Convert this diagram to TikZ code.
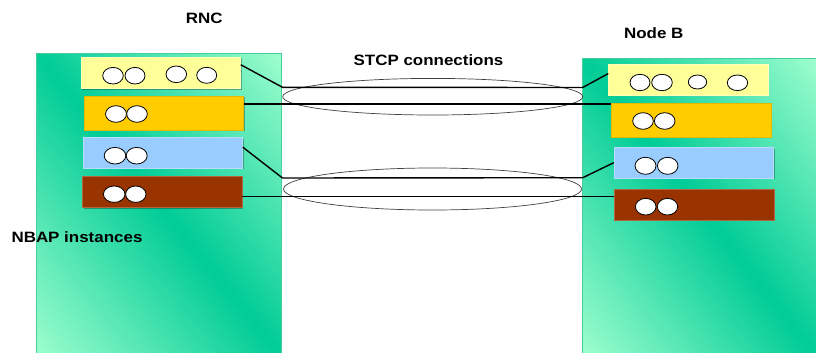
\documentclass[tikz,border=0pt]{standalone}
\usepackage{fontspec}
\newfontfamily\lblfont{Liberation Sans Bold}[FakeStretch=1.13]
\usetikzlibrary{shapes.geometric,shadows}
\definecolor{mintlight}{RGB}{158,254,206}
\definecolor{mintdark}{RGB}{0,204,150}
\definecolor{panelline}{RGB}{70,205,155}
\definecolor{boxyellow}{RGB}{255,255,153}
\definecolor{boxorange}{RGB}{255,204,0}
\definecolor{boxblue}{RGB}{153,204,255}
\definecolor{boxbrown}{RGB}{153,51,0}
\newcommand\mygradpanel[4]{% x0 y0 w h (top-left corner, y downwards)
  \begin{scope}
    \clip (#1,#2) rectangle ({#1+#3},{#2+#4});
    \fill[mintdark] (#1,#2) rectangle ({#1+#3},{#2+#4});
    \foreach \i in {0,...,39}{%
      \pgfmathsetmacro\sa{\i/40-0.003}%
      \pgfmathsetmacro\sb{(\i+1)/40+0.003}%
      \pgfmathsetmacro\pct{100*(\i+0.5)/40}%
      \fill[mintlight!\pct!mintdark]
        ({#1+#3*(\sa-1)},{#2-#4}) -- ({#1+#3*(\sa+2)},{#2+2*#4}) --
        ({#1+#3*(\sb+2)},{#2+2*#4}) -- ({#1+#3*(\sb-1)},{#2-#4}) -- cycle;
      \fill[mintlight!\pct!mintdark]
        ({#1+#3*(-\sa-1)},{#2-#4}) -- ({#1+#3*(-\sa+2)},{#2+2*#4}) --
        ({#1+#3*(-\sb+2)},{#2+2*#4}) -- ({#1+#3*(-\sb-1)},{#2-#4}) -- cycle;
    }
  \end{scope}}
\begin{document}
\begin{tikzpicture}[x=1pt,y=-1pt,
  panel/.style={draw=panelline,line width=0.8pt,inner sep=0pt},
  inst/.style={inner sep=0pt,minimum width=159.5pt,
    drop shadow={shadow xshift=1.3pt,shadow yshift=-1.3pt,fill=black,opacity=0.3}},
  bub/.style={draw=black,fill=white,line width=0.8pt},
  conn/.style={draw=black,line width=1.4pt},
  stcp/.style={ellipse,draw=black!75,line width=0.7pt,inner sep=0pt},
  lbl/.style={inner sep=0pt,font=\lblfont\fontsize{15}{18}\selectfont}
]
\useasboundingbox (0,0) rectangle (816,353);

% panels
\mygradpanel{36.7}{53.3}{245}{303}
\mygradpanel{582.7}{58.3}{234}{298}
\node[panel,minimum width=245pt,minimum height=303pt] (rncp) at (159.2,204.8) {};
\node[panel,minimum width=237pt,minimum height=298pt] (nbp) at (701.2,207.3) {};

% STCP association ellipses
\node[stcp,minimum width=300pt,minimum height=36.6pt] (e1) at (432.7,96.7) {};
\node[stcp,minimum width=298pt,minimum height=42pt] (e2) at (432.5,189) {};

% instance boxes, RNC side
\node[inst,fill=boxyellow,draw=boxyellow!70!white,minimum height=31.5pt] (ly) at (160.8,72.7) {};
\node[inst,fill=boxorange,draw=boxorange!90!black,minimum height=34pt] (lo) at (163.7,113) {};
\node[inst,fill=boxblue,draw=boxblue!70!white,minimum height=30.7pt] (lb) at (162.8,152.7) {};
\node[inst,fill=boxbrown,draw=boxbrown!75!white,minimum height=31.3pt] (lr) at (162.2,191.7) {};
% instance boxes, Node B side
\node[inst,fill=boxyellow,draw=boxyellow!70!white,minimum height=31pt] (ry) at (688.3,79.5) {};
\node[inst,fill=boxorange,draw=boxorange!90!black,minimum height=34pt] (ro) at (691.2,119.7) {};
\node[inst,fill=boxblue,draw=boxblue!70!white,minimum height=30.7pt] (rb) at (693.7,162.7) {};
\node[inst,fill=boxbrown,draw=boxbrown!75!white,minimum height=31pt] (rr) at (694.2,204.5) {};

% bend points at the panel edges
\coordinate (k1) at (282.5,87.3);
\coordinate (k2) at (582.7,87.5);
\coordinate (k3) at (282.5,178);
\coordinate (k4) at (582.7,177.7);

% connections
\draw[conn] ([yshift=-8pt]ly.north east) -- (k1) -- (k2) -- ([yshift=6pt]ry.west);
\draw[conn] ([yshift=-8pt]lo.north east) coordinate (o2) -- (o2 -| ro.west);
\draw[conn] ([yshift=-10pt]lb.north east) -- (k3) -- (k4) -- (rb.west);
\draw[conn] ([yshift=-5pt]lr.east) coordinate (o4) -- (o4 -| rr.west);

% bubbles
\foreach \cx/\cy/\rx/\ry in {113/75.7/10.3/8.3, 135/75.7/10/8.3, 176.3/74.3/10.3/8.3, 206.7/75.3/10/8,
  116/114/10.5/8.3, 137/114/10.3/8.3,
  115/155.7/10.8/8.3, 136.7/155.7/10.5/8.3,
  114.2/194.2/10.8/8.2, 135.8/194.2/10.2/8.2,
  640/82.5/10/8.2, 662/82.5/10.3/8.2, 697.5/82/9.2/7, 737.5/82.8/10.2/7.8,
  643/121/10.3/8.3, 664.7/121/10.3/8.3,
  645.5/165.8/10.5/8.5, 667.7/165.8/10.3/8.5,
  645.7/206.7/10.3/8.3, 667.5/206.7/10.2/8.3}
  \draw[bub] (\cx,\cy) ellipse [x radius=\rx pt, y radius=\ry pt];

% labels
\node[lbl] (trnc) at (204.3,18) {RNC};
\node[lbl] (tnb) at (653.8,32.8) {Node B};
\node[lbl] (tstcp) at (428.5,60) {STCP connections};
\node[lbl] (tnbap) at (77,237.5) {NBAP instances};
\end{tikzpicture}
\end{document}
